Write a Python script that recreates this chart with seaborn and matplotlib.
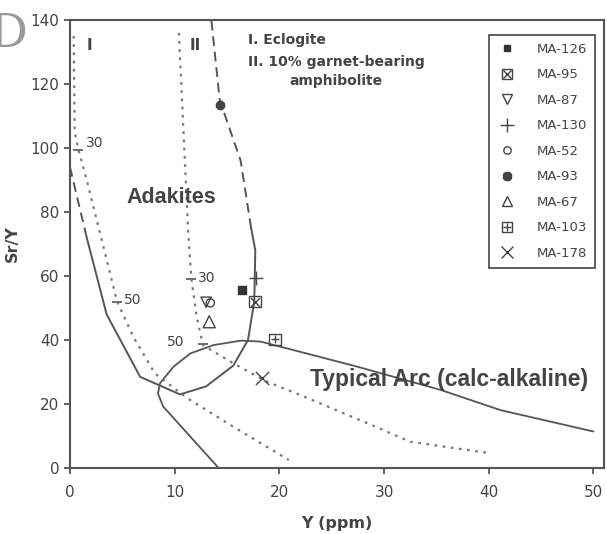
import matplotlib
matplotlib.use("Agg")
import matplotlib.pyplot as plt
import seaborn as sns
import numpy as np
import pandas as pd
from matplotlib.lines import Line2D
from matplotlib.legend_handler import HandlerTuple

sns.set_theme(style="white")
plt.rcParams['font.family'] = ['DejaVu Sans']

# ---- field boundaries (Y ppm, Sr/Y) ----
adak_dash_left_x = [0.0, 0.8, 1.6]
adak_dash_left_y = [94, 83, 72]
adak_solid_x = [1.6, 3.5, 6.7, 10.5, 13.0, 15.6, 17.0, 17.6, 17.7, 17.3]
adak_solid_y = [72, 48, 28.5, 23, 25.5, 32, 40, 52, 68, 75]
adak_dash_top_x = [17.3, 16.3, 14.3, 13.5]
adak_dash_top_y = [75, 96, 115, 140]

arc_x = [14.2, 8.9, 8.4, 8.6, 9.9, 11.5, 13.7, 16.3, 18.2, 22.0, 27.4, 35.4, 41.1, 50.0]
arc_y = [0, 19.2, 23.3, 26.5, 31.7, 35.8, 38.4, 39.8, 39.5, 36.3, 31.7, 24.4, 18.1, 11.4]

# ---- melting trends ----
eclog_x = [0.35, 0.45, 0.8, 1.6, 2.9, 4.5, 6.05, 8.1, 11.2, 15.6, 20.9]
eclog_y = [135, 105, 99.5, 90, 73, 52, 41, 29.6, 21.8, 12.9, 2.5]
amph_x = [10.4, 10.7, 11.0, 11.3, 11.6, 12.1, 12.7, 15.6, 18.8, 22.0, 28.4, 32.5, 40.2]
amph_y = [136, 115, 94, 73, 59, 47.3, 38.4, 32.7, 27, 22.8, 14, 8.2, 4.6]

tick_x = [0.8, 4.5, 11.6, 12.7]
tick_y = [99.5, 52, 59, 38.8]
tick_lab = ["30", "50", "30", "50"]
tick_lab_x = [1.5, 5.2, 12.2, 9.3]
tick_lab_y = [101.5, 52.5, 59.5, 39.5]

# ---- samples ----
samples = ["MA-126", "MA-95", "MA-87", "MA-130", "MA-52", "MA-93", "MA-67", "MA-103", "MA-178"]
sample_x = [16.4, 17.7, 13.0, 17.8, 13.4, 14.3, 13.3, 19.6, 18.3]
sample_y = [55.6, 52.0, 51.8, 59.3, 51.6, 113.4, 45.7, 40.2, 28.0]

xticks = [0, 10, 20, 30, 40, 50]
yticks = [0, 20, 40, 60, 80, 100, 120, 140]

C = '#555555'
T = '#444444'
fig = plt.figure(figsize=(6.07, 5.34), dpi=100)
ax = fig.add_axes([0.1153, 0.1236, 0.8797, 0.839])

def line(xs, ys, ls, lw=1.4, color=C):
    df = pd.DataFrame({"x": xs, "y": ys})
    sns.lineplot(data=df, x="x", y="y", sort=False, estimator=None, ax=ax,
                 color=color, lw=lw, linestyle=ls)

line(adak_dash_left_x, adak_dash_left_y, (0, (5, 3)))
line(adak_solid_x, adak_solid_y, '-')
line(adak_dash_top_x, adak_dash_top_y, (0, (5, 3)))
line(arc_x, arc_y, '-', lw=1.3)
line(eclog_x, eclog_y, (0, (1.2, 2.5)), lw=1.6, color='#777777')
line(amph_x, amph_y, (0, (1.2, 2.5)), lw=1.6, color='#777777')

sns.scatterplot(x=tick_x, y=tick_y, marker='_', s=60, color=C, linewidth=1.2, ax=ax)
for tx, ty, tl in zip(tick_lab_x, tick_lab_y, tick_lab):
    ax.text(tx, ty, tl, fontsize=10, color=T, va='center', ha='left')

# sample markers
styles = {
    "MA-126": [dict(marker='s', s=28, facecolor='#333333', edgecolor='#333333')],
    "MA-95": [dict(marker='s', s=70, facecolor='none', edgecolor=T),
              dict(marker='x', s=40, facecolor=T, edgecolor=T)],
    "MA-87": [dict(marker='v', s=55, facecolor='none', edgecolor=T)],
    "MA-130": [dict(marker='+', s=110, facecolor=T, edgecolor=T)],
    "MA-52": [dict(marker='o', s=35, facecolor='none', edgecolor=T)],
    "MA-93": [dict(marker='8', s=40, facecolor=T, edgecolor=T)],
    "MA-67": [dict(marker='^', s=75, facecolor='none', edgecolor=T)],
    "MA-103": [dict(marker='s', s=70, facecolor='none', edgecolor=T),
               dict(marker='+', s=40, facecolor=T, edgecolor=T)],
    "MA-178": [dict(marker='x', s=90, facecolor=T, edgecolor=T)],
}
handles = []
for name, sx, sy in zip(samples, sample_x, sample_y):
    parts = []
    for st in styles[name]:
        sns.scatterplot(x=[sx], y=[sy], marker=st['marker'], s=st['s'],
                        facecolor=st['facecolor'], edgecolor=st['edgecolor'],
                        linewidth=1.0, ax=ax, zorder=5)
        ms = np.sqrt(st['s']) * 0.9
        parts.append(Line2D([], [], linestyle='none', marker=st['marker'], markersize=ms,
                            markerfacecolor=st['facecolor'], markeredgecolor=st['edgecolor'],
                            markeredgewidth=1.0, color=st['edgecolor']))
    handles.append(tuple(parts) if len(parts) > 1 else parts[0])

leg = ax.legend(handles, samples, loc='upper right', bbox_to_anchor=(0.983, 0.967),
                handler_map={tuple: HandlerTuple(ndivide=1, pad=0)},
                frameon=True, fancybox=False, edgecolor=T, framealpha=1,
                fontsize=9.5, labelspacing=0.95, handletextpad=1.5, borderpad=0.6,
                handlelength=1.5, borderaxespad=0)
leg.get_frame().set_linewidth(1.2)
for t in leg.get_texts():
    t.set_color(T)

# annotations
ax.text(1.9, 132, "I", fontsize=11, color=T, fontweight='bold', ha='center', va='center')
ax.text(12.0, 132, "II", fontsize=11, color=T, fontweight='bold', ha='center', va='center')
ax.text(17.0, 133.7, "I. Eclogite", fontsize=10, color=T, fontweight='bold', ha='left', va='center')
ax.text(17.0, 127.0, "II. 10% garnet-bearing", fontsize=10, color=T, fontweight='bold', ha='left', va='center')
ax.text(21.0, 120.8, "amphibolite", fontsize=10, color=T, fontweight='bold', ha='left', va='center')
ax.text(9.7, 84.5, "Adakites", fontsize=15.5, color=T, fontweight='bold', ha='center', va='center',
        family='Liberation Sans')
ax.text(22.9, 27.5, "Typical Arc (calc-alkaline)", fontsize=16.5, color=T, fontweight='bold',
        ha='left', va='center', family='Liberation Sans')

ax.set_xlim(0, 51)
ax.set_ylim(0, 140)
ax.set_xticks(xticks)
ax.set_yticks(yticks)
ax.set_xlabel("Y (ppm)", fontsize=11.5, color=T, fontweight='bold', labelpad=12)
ax.set_ylabel("Sr/Y", fontsize=11.5, color=T, fontweight='bold', labelpad=8)
ax.tick_params(axis='both', which='both', direction='out', length=4, width=1.2,
               colors=T, labelsize=11, bottom=True, left=True)
ax.tick_params(axis='x', pad=8)
for sp in ax.spines.values():
    sp.set_color(C)
    sp.set_linewidth(1.5)

fig.text(-0.018, 0.935, "D", fontsize=34, family='DejaVu Serif', color='#999999', va='center', ha='left')

fig.savefig("out.png", dpi=100)
